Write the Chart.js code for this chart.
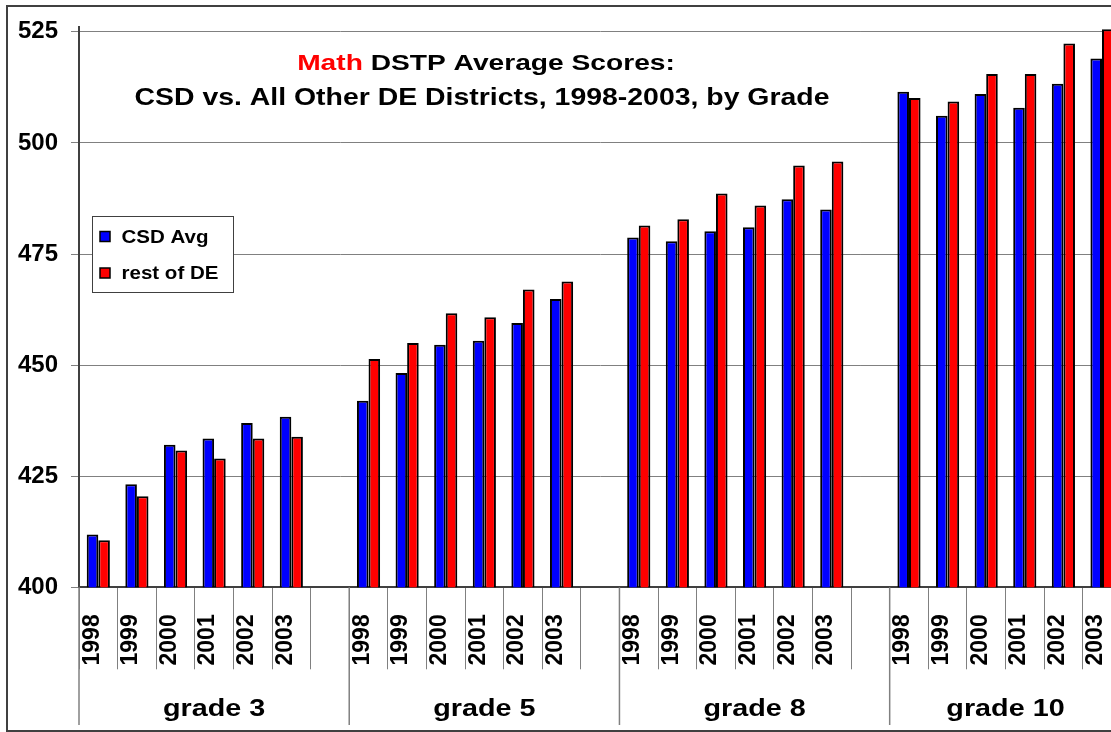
<!DOCTYPE html>
<html lang="en">
<head>
<meta charset="UTF-8">
<title>Math DSTP Average Scores</title>
<script src="https://cdn.jsdelivr.net/npm/chart.js"></script>
<style>
  html, body { margin: 0; padding: 0; background: #fff; overflow: hidden; }
  #scoreChart { display: block; }
</style>
</head>
<body>
<canvas id="scoreChart" width="1140" height="732"></canvas>
<script>
const years = ['1998', '1999', '2000', '2001', '2002', '2003'];
const grades = ['grade 3', 'grade 5', 'grade 8', 'grade 10'];
// one row per grade, one value per year
const csdAvg = [
    [411.9, 423.2, 432.1, 433.5, 437.0, 438.4],
    [442.0, 448.2, 454.6, 455.5, 459.5, 464.9],
    [478.7, 477.9, 480.1, 481.0, 487.3, 485.0],
    [511.5, 506.1, 511.0, 507.9, 513.3, 519.0]
];
const restOfDE = [
    [410.6, 420.5, 430.8, 429.0, 433.5, 433.9],
    [451.4, 455.0, 461.7, 460.8, 467.0, 468.8],
    [481.4, 482.8, 488.6, 485.9, 494.9, 495.8],
    [510.1, 509.3, 515.5, 515.5, 522.4, 525.6]
];
const yTicks = [400, 425, 450, 475, 500, 525];

const FONT = 'Arial, "Liberation Sans", sans-serif';

// flatten the grades into one category axis, empty slot between grades
const labels = [], csdData = [], restData = [], groupStart = [];
grades.forEach((g, gi) => {
    if (gi > 0) { labels.push(''); csdData.push(null); restData.push(null); }
    groupStart.push(labels.length);
    years.forEach((y, yi) => {
        labels.push(y);
        csdData.push(csdAvg[gi][yi]);
        restData.push(restOfDE[gi][yi]);
    });
});

// draws bold text centred on cx, stretched sideways by sx (the original is wide-set)
function drawLine(ctx, parts, cx, y, size, sx) {
    ctx.save();
    ctx.font = 'bold ' + size + 'px ' + FONT;
    ctx.textAlign = 'left';
    ctx.textBaseline = 'alphabetic';
    const widths = parts.map(p => ctx.measureText(p.text).width);
    const total = widths.reduce((a, b) => a + b, 0) * sx;
    ctx.translate(cx - total / 2, y);
    ctx.scale(sx, 1);
    let x = 0;
    parts.forEach((p, i) => {
        ctx.fillStyle = p.color;
        ctx.fillText(p.text, x, 0);
        x += widths[i];
    });
    ctx.restore();
}

const extras = {
    id: 'extras',
    beforeDraw(chart) {
        const ctx = chart.ctx;
        ctx.save();
        ctx.fillStyle = '#fff';
        ctx.fillRect(0, 0, chart.width, chart.height);
        ctx.strokeStyle = '#404040';
        ctx.lineWidth = 2;
        ctx.strokeRect(7, 6, chart.width, 725);
        ctx.restore();
    },
    afterDraw(chart) {
        const ctx = chart.ctx;
        const xs = chart.scales.x;
        const bottom = chart.chartArea.bottom;
        ctx.save();

        // grade separators and grade names
        ctx.strokeStyle = '#808080';
        ctx.lineWidth = 1.5;
        groupStart.forEach((s, gi) => {
            const x0 = xs.getPixelForValue(s - 0.5);
            ctx.beginPath();
            ctx.moveTo(x0, bottom);
            ctx.lineTo(x0, 725);
            ctx.stroke();
            const end = gi < grades.length - 1 ? groupStart[gi + 1] - 0.5 : labels.length - 0.5;
            const cx = (x0 + xs.getPixelForValue(end)) / 2;
            drawLine(ctx, [{ text: grades[gi], color: '#000' }], cx, 716, 23, 1.25);
        });

        // title inside the plot
        drawLine(ctx, [{ text: 'Math ', color: '#ff0000' }, { text: 'DSTP Average Scores:', color: '#000' }], 486, 70, 22, 1.28);
        drawLine(ctx, [{ text: 'CSD vs. All Other DE Districts, 1998-2003, by Grade', color: '#000' }], 482, 105, 24.5, 1.16);

        // legend box
        ctx.fillStyle = '#fff';
        ctx.fillRect(92.5, 216.5, 141, 76);
        ctx.strokeStyle = '#404040';
        ctx.lineWidth = 1;
        ctx.strokeRect(92.5, 216.5, 141, 76);
        chart.data.datasets.forEach((ds, i) => {
            const top = 231.5 + i * 36.5;
            ctx.fillStyle = ds.backgroundColor;
            ctx.fillRect(100, top, 10, 10);
            ctx.strokeStyle = '#000';
            ctx.lineWidth = 1.5;
            ctx.strokeRect(100, top, 10, 10);
            ctx.save();
            ctx.font = 'bold 19px ' + FONT;
            ctx.fillStyle = '#000';
            ctx.textAlign = 'left';
            ctx.textBaseline = 'alphabetic';
            ctx.translate(121.5, top + 11);
            ctx.scale(1.08, 1);
            ctx.fillText(ds.label, 0, 0);
            ctx.restore();
        });
        ctx.restore();
    }
};

new Chart(document.getElementById('scoreChart').getContext('2d'), {
    type: 'bar',
    data: {
        labels: labels,
        datasets: [
            { label: 'CSD Avg', data: csdData, backgroundColor: '#0000ff', borderColor: '#000', borderWidth: 2 },
            { label: 'rest of DE', data: restData, backgroundColor: '#ff0000', borderColor: '#000', borderWidth: 2 }
        ]
    },
    options: {
        responsive: false,
        animation: false,
        categoryPercentage: 0.6,
        barPercentage: 1,
        layout: { padding: { top: 25, right: 18.7, left: 0, bottom: 0 } },
        plugins: {
            legend: { display: false },
            tooltip: { enabled: false }
        },
        scales: {
            x: {
                offset: true,
                grid: { offset: true, drawOnChartArea: false, drawTicks: true, tickLength: 82, color: '#808080', lineWidth: 1 },
                border: { display: true, color: '#404040', width: 2 },
                ticks: {
                    autoSkip: false, minRotation: 90, maxRotation: 90,
                    padding: -55, labelOffset: -6, color: '#000',
                    font: { family: FONT, size: 23, weight: 'bold' }
                },
                afterFit(s) { s.height = 144.7; }
            },
            y: {
                min: 400,
                max: 526,
                afterBuildTicks(s) { s.ticks = yTicks.map(v => ({ value: v })); },
                grid: { color: '#808080', lineWidth: 1, tickLength: 8 },
                border: { color: '#404040', width: 2 },
                ticks: { padding: 13, color: '#000', font: { family: FONT, size: 24, weight: 'bold' } },
                afterFit(s) { s.width = 79; }
            }
        }
    },
    plugins: [extras]
});
</script>
</body>
</html>
